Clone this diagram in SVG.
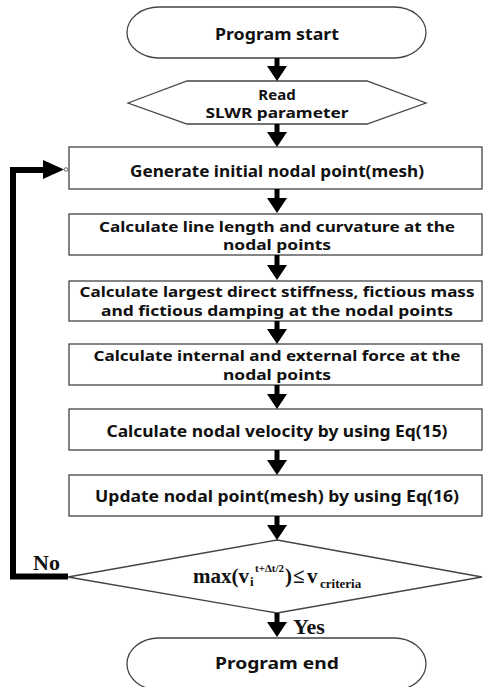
<svg xmlns="http://www.w3.org/2000/svg" width="483" height="687" viewBox="0 0 483 687">
<style>
.shape{fill:#fff;stroke:#444;stroke-width:1.3}
.t{font-family:"Noto Sans","Open Sans",sans-serif;font-weight:bold;font-size:16px;fill:#111;text-anchor:middle}
.t2{font-size:15px}
.s{font-family:"Liberation Serif","Times New Roman",serif;font-weight:bold;fill:#111}
.arr{fill:#000}
.fb{fill:none;stroke:#000;stroke-width:6}
</style>
<rect width="483" height="687" fill="#fff"/>
<g id="start">
<rect class="shape" x="127" y="7" width="299" height="51" rx="32" ry="25.5"/>
<text class="t" x="277" y="40" textLength="124" lengthAdjust="spacingAndGlyphs">Program start</text>
</g>
<g id="read">
<polygon class="shape" points="128,103 187,81 367,81 426,103 367,124 187,124"/>
<text class="t t2" x="277" y="100">Read</text>
<text class="t t2" x="277" y="118" textLength="143" lengthAdjust="spacingAndGlyphs">SLWR parameter</text>
</g>
<g id="gen">
<rect class="shape" x="69" y="147" width="413" height="42"/>
<text class="t" x="277" y="177" textLength="294" lengthAdjust="spacingAndGlyphs">Generate initial nodal point(mesh)</text>
</g>
<g id="calcLine">
<rect class="shape" x="69" y="214" width="413" height="41"/>
<text class="t t2" x="277" y="232" textLength="356" lengthAdjust="spacingAndGlyphs">Calculate line length and curvature at the</text>
<text class="t t2" x="277" y="250" textLength="108" lengthAdjust="spacingAndGlyphs">nodal points</text>
</g>
<g id="calcStiff">
<rect class="shape" x="69" y="281" width="413" height="40"/>
<text class="t t2" x="277" y="297" textLength="395" lengthAdjust="spacingAndGlyphs">Calculate largest direct stiffness, fictious mass</text>
<text class="t t2" x="277" y="316" textLength="352" lengthAdjust="spacingAndGlyphs">and fictious damping at the nodal points</text>
</g>
<g id="calcForce">
<rect class="shape" x="69" y="344" width="413" height="41"/>
<text class="t t2" x="277" y="361" textLength="367" lengthAdjust="spacingAndGlyphs">Calculate internal and external force at the</text>
<text class="t t2" x="277" y="380" textLength="108" lengthAdjust="spacingAndGlyphs">nodal points</text>
</g>
<g id="calcVel">
<rect class="shape" x="69" y="409" width="413" height="41"/>
<text class="t" x="277" y="437" textLength="341" lengthAdjust="spacingAndGlyphs">Calculate nodal velocity by using Eq(15)</text>
</g>
<g id="update">
<rect class="shape" x="69" y="475" width="413" height="41"/>
<text class="t" x="277" y="502" textLength="364" lengthAdjust="spacingAndGlyphs">Update nodal point(mesh) by using Eq(16)</text>
</g>
<g id="decision">
<polygon class="shape" points="277,540 482,577 277,613 68,577"/>
<text class="s" font-size="21" x="193" y="583">max(v</text>
<text class="s" font-size="13" x="250" y="586">i</text>
<text class="s" font-size="11" x="255" y="572">t+Δt/2</text>
<text class="s" font-size="21" x="285" y="583">)</text>
<text class="s" font-size="21" x="293" y="583">≤</text>
<text class="s" font-size="21" x="307" y="583">v</text>
<text class="s" font-size="13" x="320" y="588">criteria</text>
</g>
<g id="end">
<rect class="shape" x="127" y="638" width="299" height="52" rx="32" ry="26"/>
<text class="t" x="277" y="669" textLength="124" lengthAdjust="spacingAndGlyphs">Program end</text>
</g>
<g id="connectors">
<path class="arr" d="M274.5,58h5v8h7.5l-10,15l-10,-15h7.5z"/>
<path class="arr" d="M274.5,124h5v8h7.5l-10,15l-10,-15h7.5z"/>
<path class="arr" d="M274.5,189h5v9h7.5l-10,15l-10,-15h7.5z"/>
<path class="arr" d="M274.5,255h5v10h7.5l-10,15l-10,-15h7.5z"/>
<path class="arr" d="M274.5,321h5v8h7.5l-10,15l-10,-15h7.5z"/>
<path class="arr" d="M274.5,385h5v9h7.5l-10,15l-10,-15h7.5z"/>
<path class="arr" d="M274.5,450h5v10h7.5l-10,15l-10,-15h7.5z"/>
<path class="arr" d="M274.5,516h5v9h7.5l-10,15l-10,-15h7.5z"/>
<path class="arr" d="M274.5,613h5v9h7.5l-10,15l-10,-15h7.5z"/>
<polyline class="fb" points="68,576.5 13,576.5 13,170 46,170"/>
<polygon class="arr" points="43,160 64,169.5 43,179"/>
<circle cx="66" cy="169.5" r="1.8" fill="#fff" stroke="#444" stroke-width="0.8"/>
<text class="s" font-size="22" x="33" y="570">No</text>
<text class="s" font-size="22" x="293" y="634">Yes</text>
</g>
</svg>
